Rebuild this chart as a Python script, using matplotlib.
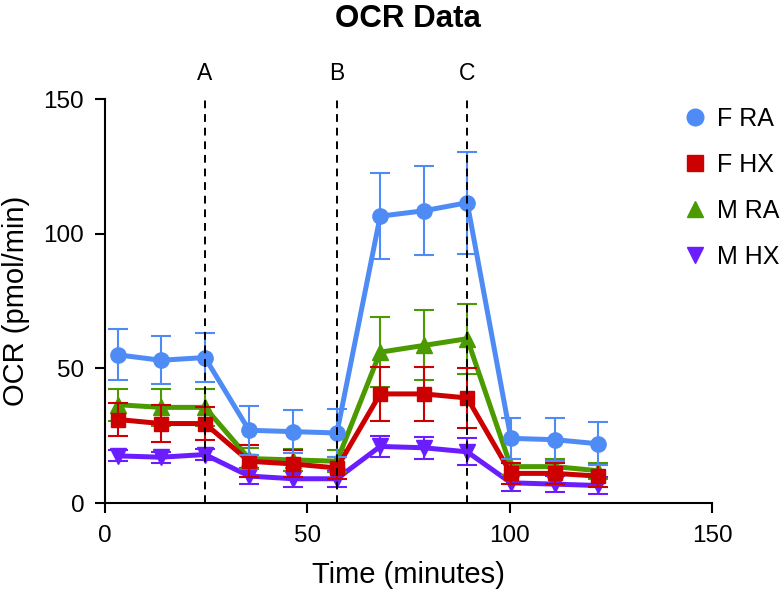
import numpy as np
import matplotlib.pyplot as plt

plt.rcParams['font.family'] = ['Liberation Sans', 'DejaVu Sans']

time = [3.2, 13.8, 24.7, 35.6, 46.5, 57.3, 68.0, 78.8, 89.5, 100.3, 111.2, 121.8]

f_ra = [55, 53, 54, 27, 26.5, 26, 106.5, 108.5, 111.5, 24, 23.5, 22]
f_ra_err = [9.5, 9, 9, 9, 8, 9, 16, 16.5, 19, 7.5, 8, 8]
f_hx = [31, 29.5, 29.5, 15.5, 14.5, 13, 40.5, 40.5, 39, 11, 11, 10]
f_hx_err = [6, 7, 6, 6, 5, 4, 10, 10, 11, 4, 4, 4]
m_ra = [36.5, 35.5, 35.5, 16.5, 16, 15.5, 56, 58.5, 61, 13.5, 13.5, 12]
m_ra_err = [6, 7, 7, 4, 4, 4, 13, 13, 13, 3, 3, 3]
m_hx = [17.5, 17, 18, 10, 9, 9, 21, 20.5, 19, 7.5, 7, 6.5]
m_hx_err = [2, 2, 2, 3, 3, 3, 4, 4, 5, 3, 3, 3]

injections = [24.7, 57.3, 89.5]
injection_labels = ['A', 'B', 'C']

# name, values, errors, colour, marker, marker size, zorder
series = [
    ('M HX', m_hx, m_hx_err, '#6a1eff', 'v', 11, 2),
    ('M RA', m_ra, m_ra_err, '#4a9a00', '^', 11, 3),
    ('F HX', f_hx, f_hx_err, '#cc0000', 's', 10, 4),
    ('F RA', f_ra, f_ra_err, '#4f8bf5', 'o', 11, 5),
]

fig = plt.figure(figsize=(7.84, 5.98), dpi=100)
ax = fig.add_axes([105 / 784, 95 / 598, 607 / 784, 404 / 598])

for name, y, err, color, marker, ms, z in series:
    ax.errorbar(time, y, yerr=err, color=color, marker=marker, markersize=ms,
                linewidth=3.6, elinewidth=1.5, capsize=7.5, capthick=1.5,
                label=name, zorder=z)

for x, lab in zip(injections, injection_labels):
    ax.vlines(x, 0, 151, colors='black', linestyles=(0, (4, 3)), linewidth=1.4,
              zorder=6, clip_on=False)
    ax.text(x, 157, lab, ha='center', va='baseline', fontsize=16.5)

ax.set_xlim(0, 150)
ax.set_ylim(0, 150)
ax.set_xticks([0, 50, 100, 150])
ax.set_yticks([0, 50, 100, 150])
ax.spines['top'].set_visible(False)
ax.spines['right'].set_visible(False)
ax.spines['left'].set_linewidth(1.5)
ax.spines['bottom'].set_linewidth(1.5)
ax.tick_params(labelsize=17.5, width=1.5, length=7)
ax.tick_params(axis='x', pad=9)
ax.tick_params(axis='y', pad=8)

ax.set_xlabel('Time (minutes)', fontsize=21, labelpad=10)
ax.set_ylabel('OCR (pmol/min)', fontsize=21, labelpad=10)
fig.text(408 / 784, 1 - 27 / 598, 'OCR Data', fontsize=22.5, fontweight='bold',
         ha='center', va='baseline')

order = ['F RA', 'F HX', 'M RA', 'M HX']
leg_handles = []
for name in order:
    for s in series:
        if s[0] == name:
            leg_handles.append(plt.Line2D([], [], color=s[3], marker=s[4],
                                          linestyle='none', markersize=s[5] + 1))
fig.legend(leg_handles, order, loc='upper left',
           bbox_to_anchor=(682 / 784, 1 - 107 / 598),
           frameon=False, fontsize=18, handletextpad=0.4, labelspacing=0.88,
           handlelength=1.0, borderpad=0, borderaxespad=0)

fig.savefig('out.png', dpi=100)
